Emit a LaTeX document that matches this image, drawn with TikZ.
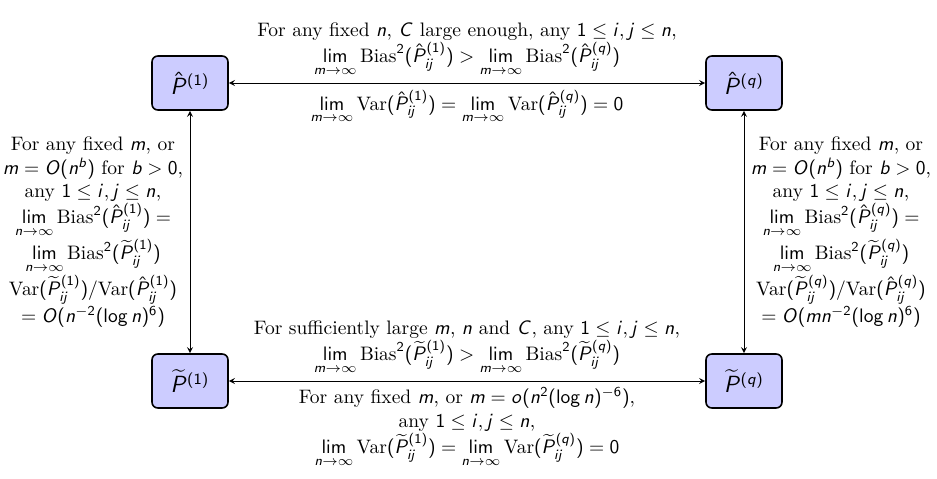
\documentclass[tikz,border=0pt]{standalone}
\usepackage{amssymb,amsmath}
\usetikzlibrary{arrows}
% sans serif math letters, serif text
\DeclareSymbolFont{sfletters}{OT1}{cmss}{m}{sl}
\SetSymbolFont{operators}{normal}{OT1}{cmss}{m}{n}
\DeclareMathSymbol{P}{\mathalpha}{sfletters}{`P}
\DeclareMathSymbol{C}{\mathalpha}{sfletters}{`C}
\DeclareMathSymbol{O}{\mathalpha}{sfletters}{`O}
\DeclareMathSymbol{b}{\mathalpha}{sfletters}{`b}
\DeclareMathSymbol{i}{\mathalpha}{sfletters}{`i}
\DeclareMathSymbol{j}{\mathalpha}{sfletters}{`j}
\DeclareMathSymbol{m}{\mathalpha}{sfletters}{`m}
\DeclareMathSymbol{n}{\mathalpha}{sfletters}{`n}
\DeclareMathSymbol{o}{\mathalpha}{sfletters}{`o}
\DeclareMathSymbol{q}{\mathalpha}{sfletters}{`q}

\begin{document}
\begin{tikzpicture}[x=0.513pt,y=0.513pt,>=stealth]
\tikzset{est/.style={shape=rectangle, rounded corners=3pt, draw=black, thick, fill=blue!20, minimum width=39pt, minimum height=27.7pt, font=\large}}
\useasboundingbox (0,0) rectangle (937,479);
    \node[est] at (190,396) (Ph1) {$\hat{P}^{(1)}$};
    \node[est] at (744,396) (Phq) {$\hat{P}^{(q)}$};
    \node[est] at (190,98) (Pt1) {$\widetilde{P}^{(1)}$};
    \node[est] at (744,98) (Ptq) {$\widetilde{P}^{(q)}$};
    \path [<->] (Ph1) edge node[align=center, above] {For any fixed $n$, $C$ large enough, any $1\le i,j\le n$,\\ $\lim\limits_{m\to\infty}\textrm{Bias}^2(\hat{P}_{ij}^{(1)}) > \lim\limits_{m\to\infty}\textrm{Bias}^2(\hat{P}_{ij}^{(q)})$}
        node[align=center, below] {$\lim\limits_{m\to\infty}\textrm{Var}(\hat{P}_{ij}^{(1)}) = \lim\limits_{m\to\infty}\textrm{Var}(\hat{P}_{ij}^{(q)}) = 0$} (Phq);
    \path [<->] (Pt1) edge node[align=center, above] {For sufficiently large $m$, $n$ and $C$, any $1\le i,j\le n$,\\ $\lim\limits_{m\to\infty}\textrm{Bias}^2(\widetilde{P}_{ij}^{(1)}) > \lim\limits_{m\to\infty}\textrm{Bias}^2(\widetilde{P}_{ij}^{(q)})$}
        node[align=center, below] {For any fixed $m$, or $m=o(n^2(\log n)^{-6})$,\\ any $1\le i,j\le n$,\\ $\lim\limits_{n\to\infty}\textrm{Var}(\widetilde{P}_{ij}^{(1)}) = \lim\limits_{n\to\infty}\textrm{Var}(\widetilde{P}_{ij}^{(q)}) = 0$} (Ptq);
    \path [<->] (Ph1) edge node[align=center, left] {For any fixed $m$, or\\ $m=O(n^b)$ for $b>0$,\\ any $1\le i,j\le n$,\\ $\lim\limits_{n\to\infty}\textrm{Bias}^2(\hat{P}_{ij}^{(1)}) =$\\ $\lim\limits_{n\to\infty}\textrm{Bias}^2(\widetilde{P}_{ij}^{(1)})$\\ $\textrm{Var}(\widetilde{P}_{ij}^{(1)})/\textrm{Var}(\hat{P}_{ij}^{(1)})$\\ $= O(n^{-2}(\log n)^6)$} (Pt1);
    \path [<->] (Phq) edge node[align=center, right] {For any fixed $m$, or\\ $m=O(n^b)$ for $b>0$,\\ any $1\le i,j\le n$,\\ $\lim\limits_{n\to\infty}\textrm{Bias}^2(\hat{P}_{ij}^{(q)}) =$\\ $\lim\limits_{n\to\infty}\textrm{Bias}^2(\widetilde{P}_{ij}^{(q)})$\\ $\textrm{Var}(\widetilde{P}_{ij}^{(q)})/\textrm{Var}(\hat{P}_{ij}^{(q)})$\\ $= O(mn^{-2}(\log n)^6)$} (Ptq);
\end{tikzpicture}
\end{document}
